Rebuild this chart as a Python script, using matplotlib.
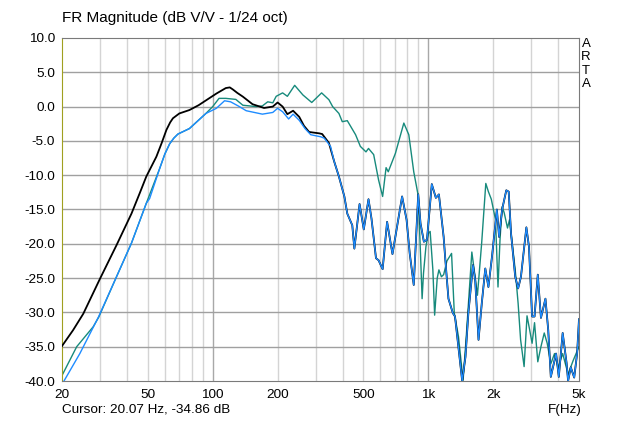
import matplotlib
matplotlib.use("Agg")
import matplotlib.pyplot as plt

plt.rcParams['font.family'] = ['Liberation Sans', 'DejaVu Sans']

# black curve (low part, above ~400 Hz it lies under the blue one)
black_f = [20, 22.5, 25.1, 30, 35.8, 42, 45.9, 49.2, 54.8, 58, 61, 63.5, 65.4, 70, 78, 86, 93, 104, 115,
           120, 124, 130, 138, 153, 173, 190, 200, 211, 222, 236, 252, 265, 280, 312, 322, 346, 366, 385]
black_db = [-34.9, -32.6, -30.2, -25.1, -20.2, -15.6, -12.6, -10.2, -7.3, -5.3, -3.4, -2.3, -1.7, -1.0, -0.5, 0.2, 0.9, 1.9, 2.7,
            2.8, 2.5, 2.0, 1.45, 0.35, -0.2, 0.0, 0.6, 0.0, -1.1, -0.6, -1.5, -2.8, -3.7, -3.9, -4.0, -5.3, -8.0, -10.2]

blue_f = [20, 24.2, 29.6, 35.8, 42, 49.2, 51, 56.8, 60, 63.2, 66, 69, 78, 93, 104, 113.5, 121,
          133, 143, 170, 190, 200, 211, 225, 236, 252, 268, 285, 317, 329, 352, 366, 385,
          408, 421, 444, 454, 480, 502, 528, 545, 572, 588, 614, 644, 682, 756, 793,
          820, 856, 898, 920, 954, 986, 1038, 1084, 1120, 1178, 1200, 1240, 1300, 1330,
          1406, 1436, 1487, 1534, 1612, 1650, 1710, 1770, 1838, 1900, 1974, 2080, 2130,
          2200, 2300, 2360, 2420, 2530, 2610, 2690, 2850, 2930, 3030, 3110, 3220, 3330,
          3494, 3600, 3700, 3914, 4030, 4200, 4380, 4450, 4580, 4750, 4900, 5000]
blue_db = [-40.5, -36.0, -30.6, -24.8, -19.9, -14.1, -13.4, -9.0, -6.9, -5.4, -4.6, -4.0, -3.2, -1.0, -0.25, 0.85, 0.7,
           0.0, -0.6, -1.1, -0.85, -0.25, -0.75, -1.8, -1.1, -2.0, -3.2, -4.1, -4.4, -4.6, -5.8, -8.0, -10.2,
           -13.1, -15.6, -17.3, -20.7, -14.2, -17.9, -13.5, -16.3, -22.1, -22.4, -23.7, -16.8, -21.5, -13.1, -16.5,
           -21.4, -26.0, -12.8, -17.0, -19.7, -19.4, -11.3, -13.3, -12.8, -19.0, -22.4, -28.0, -30.1, -30.6,
           -37.4, -40.0, -36.5, -30.1, -23.1, -25.3, -34.0, -28.7, -23.6, -26.3, -21.9, -15.0, -19.0,
           -15.0, -12.2, -12.4, -18.5, -24.8, -26.5, -24.8, -17.6, -20.4, -30.6, -30.6, -24.5, -30.8,
           -28.0, -32.6, -39.4, -36.0, -39.4, -33.0, -37.4, -40.0, -38.0, -39.5, -36.0, -31.0]

teal_f = [20, 23.4, 27.9, 29.6, 35.8, 42, 49.2, 56.8, 60, 63.2, 66, 69, 78, 93, 100, 107, 115,
          128, 138, 159, 170, 180, 190, 197, 211, 222, 240, 262, 288, 320, 346, 360,
          385, 399, 421, 460, 484, 514, 528, 558, 588, 614, 637, 652, 704, 770, 812,
          856, 880, 898, 920, 936, 950, 975, 1000, 1020, 1050, 1070, 1100, 1120, 1150,
          1178, 1220, 1282, 1320, 1380, 1450, 1500, 1592, 1640, 1690, 1768, 1848, 1900,
          1960, 2050, 2105, 2150, 2200, 2250, 2330, 2380, 2530, 2610, 2680, 2782, 2870,
          2950, 3030, 3110, 3220, 3330, 3450, 3560, 3700, 3850, 4000, 4200, 4450, 4700, 5000]
teal_db = [-39.2, -35.0, -32.1, -30.7, -24.8, -19.9, -14.1, -9.0, -6.9, -5.4, -4.6, -4.0, -3.2, -1.0, 0.0, 1.2, 1.2,
           1.05, 0.2, 0.0, 0.1, 0.7, 0.55, 1.5, 2.0, 1.5, 3.1, 1.7, 0.6, 2.0, 1.0, 0.0,
           -1.0, -2.2, -2.05, -4.1, -5.8, -6.6, -6.1, -7.0, -10.7, -13.1, -8.9, -9.5, -6.8, -2.4, -4.1,
           -9.5, -11.5, -13.0, -21.4, -28.0, -24.3, -20.4, -18.5, -18.2, -23.8, -30.4, -25.0, -23.8, -24.8,
           -24.5, -22.5, -21.4, -30.1, -33.5, -39.9, -33.5, -21.2, -24.3, -27.5, -19.9, -11.2, -12.4,
           -13.5, -16.5, -26.3, -19.5, -14.6, -15.5, -17.7, -16.5, -23.8, -28.7, -34.0, -37.9, -30.5,
           -32.5, -34.5, -31.5, -37.2, -35.0, -33.0, -34.5, -37.5, -36.0, -38.0, -36.0, -39.0, -37.0, -35.0]

xticks = [20, 50, 100, 200, 500, 1000, 2000, 5000]
xticklabels = ['20', '50', '100', '200', '500', '1k', '2k', '5k']

fig = plt.figure(figsize=(6.4, 4.26), dpi=100)
ax = fig.add_axes([62 / 640, 1 - 381 / 426, (579 - 62) / 640, (381 - 38) / 426])
ax.set_xscale('log')
ax.set_xlim(20, 5000)
ax.set_ylim(-40, 10)

# grid
for f in [30, 40, 50, 60, 70, 80, 90, 200, 300, 400, 500, 600, 700, 800, 900, 2000, 3000, 4000]:
    ax.axvline(f, color='#d4d4d4', lw=1, zorder=0)
for f in [100, 1000]:
    ax.axvline(f, color='#a8a8a8', lw=1, zorder=0)
for v in range(-35, 10, 5):
    ax.axhline(v, color='#a0a0a0', lw=1, zorder=0)

# curves: blue after ~400 Hz covers the black
black_all_f = black_f + [f for f in blue_f if f > 385]
black_all_db = black_db + [d for f, d in zip(blue_f, blue_db) if f > 385]
ax.plot(teal_f, teal_db, color='#178a7c', lw=1.0, zorder=2)
ax.plot(black_all_f, black_all_db, color='black', lw=1.3, zorder=3)
ax.plot(blue_f, blue_db, color='#1e8cff', lw=1.0, zorder=4)

ax.xaxis.set_minor_locator(plt.NullLocator())
ax.set_xticks(xticks)
ax.set_xticklabels(xticklabels)
ax.set_yticks(range(-40, 11, 5))
ax.set_yticklabels(['%.1f' % v for v in range(-40, 11, 5)])
ax.tick_params(length=0, labelsize=9.7)
ax.tick_params(axis='x', pad=6)
ax.tick_params(axis='y', pad=5)

for s in ['top', 'right', 'bottom']:
    ax.spines[s].set_color('#7a7a7a')
ax.spines['left'].set_color('#a0a020')

fig.text(62 / 640, 1 - 18 / 426, 'FR Magnitude (dB V/V - 1/24 oct)', fontsize=11, va='center')
fig.text(586 / 640, 1 - 38 / 426, 'A\nR\nT\nA', fontsize=9.5, va='top', ha='center', linespacing=1.15)
fig.text(62 / 640, 1 - 410 / 426, 'Cursor: 20.07 Hz, -34.86 dB', fontsize=9.7, va='center')
fig.text(582 / 640, 1 - 410 / 426, 'F(Hz)', fontsize=9.7, va='center', ha='right')

fig.savefig('out.png', dpi=100)
